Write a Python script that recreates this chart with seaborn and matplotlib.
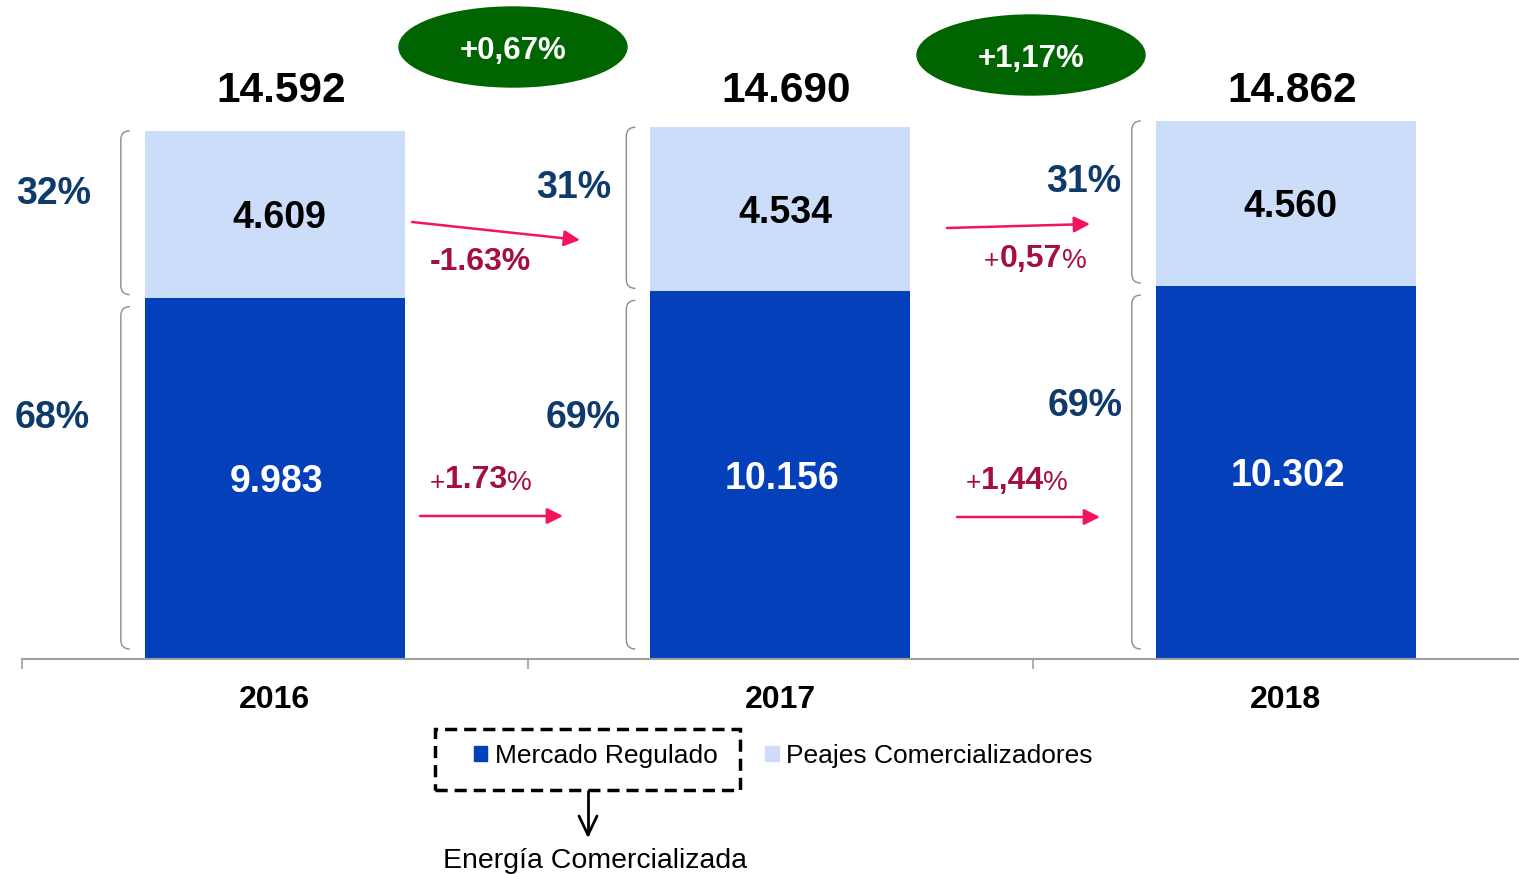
import numpy as np
import pandas as pd
import matplotlib
matplotlib.use("Agg")
import matplotlib.pyplot as plt
import seaborn as sns
from matplotlib.patches import Ellipse, Patch, Rectangle, PathPatch
from matplotlib.path import Path

# data
years = ["2016", "2017", "2018"]
regulado = [9983, 10156, 10302]
peajes = [4609, 4534, 4560]
share_peajes = ["32%", "31%", "31%"]
share_regulado = ["68%", "69%", "69%"]
growth_total = ["+0,67%", "+1,17%"]
growth_peajes = ["-1.63%", "+0,57%"]
growth_regulado = ["+1.73%", "+1,44%"]

df = pd.DataFrame({"year": years, "regulado": regulado, "peajes": peajes})
df["total"] = df["regulado"] + df["peajes"]

DARK = "#0440BA"
LIGHT = "#CCDDFA"
NAVY = "#0E3A6C"
GREEN = "#006400"
PINK = "#F5145A"
CRIMSON = "#A50F40"
GREY = "#A0A0A0"

sns.set_style("white")
plt.rcParams["font.family"] = ["Liberation Sans", "DejaVu Sans"]
plt.rcParams["text.color"] = "black"

W, H = 1519, 874
fig = plt.figure(figsize=(W / 100, H / 100), dpi=100)
ax = fig.add_axes([22 / W, (H - 659) / H, (W - 22) / W, 659 / H])

# layout helpers: reference pixel -> data coords
PX_X = 505.5
U_Y = 1 / 0.0362
DY = 3.5  # visual centring of digits (px)


def px_x(p):
    return (p - 22) / PX_X - 0.5


def px_y(p):
    return (659 - p - DY) * U_Y


def fmt(v):
    return f"{v:,}".replace(",", ".")


# stacked bars: totals (light) then regulado (dark) on top
sns.barplot(data=df, x="year", y="total", color=LIGHT, saturation=1,
            width=0.514, linewidth=0, ax=ax)
sns.barplot(data=df, x="year", y="regulado", color=DARK, saturation=1,
            width=0.514, linewidth=0, ax=ax)

ax.set_xlim(-0.5, -0.5 + (W - 22) / PX_X)
ax.set_ylim(0, 659 * U_Y)
ax.set_xlabel("")
ax.set_ylabel("")
ax.set_yticks([])
for s in ["left", "top", "right"]:
    ax.spines[s].set_visible(False)
ax.spines["bottom"].set_color(GREY)
ax.spines["bottom"].set_linewidth(1.5)
ax.set_xticks([-0.5, 0.5, 1.5], minor=True)
ax.tick_params(axis="x", which="minor", length=7, width=1.2, color=GREY, bottom=True)
ax.tick_params(axis="x", which="major", length=0, pad=18.5, labelcolor="black")
for lab in ax.get_xticklabels():
    lab.set_fontsize(23)
    lab.set_fontweight("bold")

# value labels
anns = ax.bar_label(ax.containers[1], labels=[fmt(v) for v in df["regulado"]],
                    label_type="center", color="white", fontsize=27, fontweight="bold")
for a in anns:
    a.xyann = (1.5, -DY * 0.72)
for i, row in df.iterrows():
    ax.text(i + 0.01, row["regulado"] + row["peajes"] / 2 - DY * U_Y, fmt(row["peajes"]),
            ha="center", va="center", fontsize=27, fontweight="bold", color="black")
    ax.text(i + 0.012, px_y(88), fmt(row["total"]), ha="center", va="center",
            fontsize=30.5, fontweight="bold", color="black")

# share labels
up_x = [54, 574, 1084]
up_y = [190, 185, 178]
lo_x = [52, 583, 1085]
lo_y = [414, 414, 402]
for i in range(3):
    ax.text(px_x(up_x[i]), px_y(up_y[i]), share_peajes[i], ha="center", va="center",
            fontsize=27, fontweight="bold", color=NAVY)
    ax.text(px_x(lo_x[i]), px_y(lo_y[i]), share_regulado[i], ha="center", va="center",
            fontsize=27, fontweight="bold", color=NAVY)


# brackets left of each bar
def bracket(xv, y0, y1):
    hx = 9 / PX_X
    hy = 9 * U_Y
    verts = [(xv + hx, y1), (xv, y1), (xv, y1 - hy), (xv, y0 + hy),
             (xv, y0), (xv + hx, y0)]
    codes = [Path.MOVETO, Path.CURVE3, Path.CURVE3, Path.LINETO,
             Path.CURVE3, Path.CURVE3]
    ax.add_patch(PathPatch(Path(verts, codes), fill=False, ec="#8C8C8C", lw=1.0))


for i, row in df.iterrows():
    left = i - 0.257
    xv = left - 24 / PX_X
    bracket(xv, row["regulado"] + 3 * U_Y, row["total"])
    bracket(xv, 10 * U_Y, row["regulado"] - 9 * U_Y)

# growth ellipses
ell_c = [(513, 47), (1031, 55)]
for (cx, cy), txt in zip(ell_c, growth_total):
    ax.add_patch(Ellipse((px_x(cx), (659 - cy) * U_Y), 228 / PX_X, 80 * U_Y,
                         color=GREEN, clip_on=False, zorder=3))
    ax.text(px_x(cx), px_y(cy), txt, ha="center", va="center", color="white",
            fontsize=22.5, fontweight="bold", zorder=4)

# pink arrows
arrows = [((412, 222), (580, 240)), ((420, 516), (563, 516)),
          ((947, 228), (1090, 224)), ((957, 517), (1100, 517))]
for (x0, y0), (x1, y1) in arrows:
    ax.annotate("", xy=(px_x(x1), (659 - y1) * U_Y), xytext=(px_x(x0), (659 - y0) * U_Y),
                arrowprops=dict(arrowstyle="-|>", color=PINK, lw=1.8,
                                mutation_scale=24, shrinkA=0, shrinkB=0))


def growth_label(txt, x, y):
    if txt.startswith("+"):
        parts = [("+", "normal", 19), (txt[1:-1], "bold", 23), ("%", "normal", 20)]
    else:
        parts = [(txt, "bold", 23)]
    p0, w0, s0 = parts[0]
    t = ax.text(px_x(x), px_y(y) - 14 * U_Y, p0, ha="left", va="bottom",
                fontsize=s0, fontweight=w0, color=CRIMSON)
    for p, w, s in parts[1:]:
        t = ax.annotate(p, xy=(1, 0), xycoords=t, ha="left", va="bottom",
                        fontsize=s, fontweight=w, color=CRIMSON)


growth_label(growth_peajes[0], 430, 259)
growth_label(growth_regulado[0], 430, 478)
growth_label(growth_peajes[1], 984, 256)
growth_label(growth_regulado[1], 966, 478)

# legend
handles = [Patch(color=DARK), Patch(color=LIGHT)]
leg = fig.legend(handles, ["Mercado Regulado", "Peajes Comercializadores"], ncol=2,
                 loc="center left", bbox_to_anchor=(474 / W, 1 - 756 / H),
                 frameon=False, fontsize=19, handlelength=0.5, handleheight=0.5,
                 handletextpad=0.3, columnspacing=1.8, borderpad=0, borderaxespad=0,
                 labelcolor="black")
fig.add_artist(Rectangle((435 / W, 1 - 790 / H), 305 / W, 61 / H,
                         transform=fig.transFigure, fill=False, ec="black",
                         lw=2.5, linestyle=(0, (3.5, 2))))
fig.add_artist(plt.Line2D([588 / W, 588 / W], [1 - 791 / H, 1 - 834 / H],
                          transform=fig.transFigure, color="black", lw=2))
fig.add_artist(plt.Line2D([579 / W, 588 / W, 597 / W],
                          [1 - 816 / H, 1 - 835 / H, 1 - 816 / H],
                          transform=fig.transFigure, color="black", lw=2))
fig.text(595 / W, 1 - 861 / H, "Energía Comercializada", ha="center", va="center",
         fontsize=20.5, color="black")

fig.savefig("out.png", dpi=100)
